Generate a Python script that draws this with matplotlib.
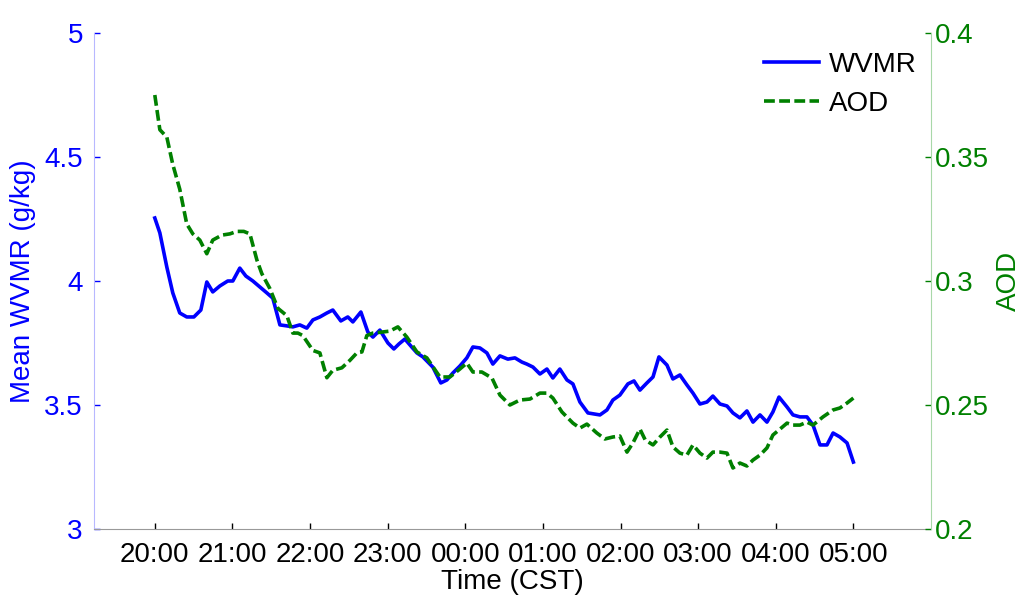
import matplotlib
matplotlib.use("Agg")
import matplotlib.pyplot as plt

plt.rcParams['font.family'] = ['Liberation Sans', 'DejaVu Sans']

# Minutes after 20:00 (CST)
wvmr_t = [0, 3.9, 9.3, 13.9, 19.3, 24.7, 30.2, 35.6, 40.2, 44.8, 50.3, 56.4, 60.3, 65.7, 70.4,
          75.8, 81.2, 86.6, 91.2, 96.7, 102.1, 106.7, 112.1, 117.5, 122.2, 127.6, 133.0, 137.6,
          143.8, 149.2, 153.1, 159.3, 164.7, 168.6, 174.0, 180.2, 184.8, 188.7, 193.3, 197.9,
          202.6, 207.2, 214.9, 221.1, 225.8, 230.4, 235.8, 241.2, 245.9, 251.3, 256.7, 261.3,
          266.8, 272.9, 278.4, 283.8, 287.6, 292.3, 297.7, 303.1, 307.7, 313.1, 318.6, 323.2,
          328.6, 334.8, 339.4, 344.1, 349.5, 354.1, 359.5, 365.7, 370.4, 375.0, 380.4, 385.1,
          389.7, 395.9, 400.5, 405.9, 411.3, 416.0, 421.4, 426.8, 431.4, 436.9, 442.3, 446.9,
          452.3, 457.7, 462.4, 467.8, 473.2, 477.8, 482.5, 488.7, 493.3, 498.7, 504.1, 508.8,
          514.2, 519.6, 524.3, 529.6, 535.1, 540]
wvmr = [4.254, 4.194, 4.056, 3.952, 3.871, 3.855, 3.855, 3.883, 3.996, 3.956, 3.980, 4.000,
        4.000, 4.052, 4.020, 4.000, 3.976, 3.952, 3.931, 3.823, 3.819, 3.815, 3.823, 3.810,
        3.843, 3.855, 3.871, 3.883, 3.839, 3.855, 3.835, 3.875, 3.794, 3.774, 3.802, 3.750,
        3.726, 3.746, 3.766, 3.738, 3.710, 3.694, 3.653, 3.589, 3.601, 3.629, 3.657, 3.690,
        3.734, 3.730, 3.710, 3.665, 3.698, 3.685, 3.690, 3.673, 3.665, 3.653, 3.625, 3.645,
        3.609, 3.645, 3.601, 3.585, 3.512, 3.468, 3.464, 3.460, 3.480, 3.520, 3.540, 3.585,
        3.597, 3.560, 3.589, 3.613, 3.694, 3.661, 3.605, 3.621, 3.581, 3.548, 3.504, 3.512,
        3.536, 3.504, 3.496, 3.468, 3.448, 3.476, 3.431, 3.460, 3.431, 3.472, 3.532, 3.492,
        3.460, 3.452, 3.452, 3.419, 3.339, 3.339, 3.387, 3.371, 3.347, 3.270]

aod_t = [0, 3.9, 9.3, 13.9, 19.3, 24.7, 29.4, 34.8, 40.2, 44.8, 51.8, 58.0, 63.4, 68.8, 73.5,
         78.9, 82.7, 88.9, 95.1, 102.1, 106.7, 110.6, 114.4, 122.2, 127.6, 133.0, 137.6, 144.6,
         150.8, 156.2, 160.1, 163.9, 168.6, 175.5, 181.7, 187.9, 194.8, 202.6, 210.3, 220.4,
         228.1, 235.8, 241.2, 245.9, 252.8, 260.6, 266.8, 274.5, 282.2, 290.0, 297.7, 303.1,
         307.7, 314.7, 323.2, 328.6, 334.0, 341.7, 347.9, 354.1, 359.5, 365.0, 369.6, 375.0,
         379.1, 385.1, 390.5, 395.9, 400.5, 405.9, 411.3, 416.0, 421.4, 426.8, 431.4, 436.9,
         442.3, 446.9, 452.3, 457.7, 462.4, 467.8, 473.2, 477.8, 483.3, 488.7, 493.3, 498.7,
         504.1, 508.8, 516.5, 524.3, 529.6, 535.1, 540]
aod = [0.375, 0.361, 0.358, 0.347, 0.337, 0.323, 0.319, 0.3165, 0.311, 0.3165, 0.3185, 0.319,
       0.320, 0.320, 0.319, 0.3085, 0.303, 0.297, 0.289, 0.286, 0.279, 0.279, 0.278, 0.272,
       0.271, 0.261, 0.264, 0.265, 0.268, 0.271, 0.2714, 0.278, 0.279, 0.2794, 0.2798, 0.2815,
       0.2774, 0.2714, 0.269, 0.2613, 0.2613, 0.2645, 0.2669, 0.2633, 0.2633, 0.2609, 0.254,
       0.250, 0.252, 0.2524, 0.2548, 0.2548, 0.2528, 0.2472, 0.2427, 0.2407, 0.2423, 0.2387,
       0.2363, 0.2371, 0.2375, 0.231, 0.2347, 0.2403, 0.2359, 0.2339, 0.2371, 0.2399, 0.2331,
       0.2306, 0.2298, 0.2339, 0.2306, 0.2286, 0.231, 0.231, 0.2306, 0.2246, 0.2266, 0.2254,
       0.2278, 0.2298, 0.2327, 0.2379, 0.2403, 0.2427, 0.2419, 0.2419, 0.2431, 0.2419, 0.2452,
       0.248, 0.2488, 0.2508, 0.2528]

xtick_pos = [0, 60, 120, 180, 240, 300, 360, 420, 480, 540]
xtick_labels = ['20:00', '21:00', '22:00', '23:00', '00:00', '01:00', '02:00', '03:00',
                '04:00', '05:00']
left_ticks = [3, 3.5, 4, 4.5, 5]
left_labels = ['3', '3.5', '4', '4.5', '5']
right_ticks = [0.2, 0.25, 0.3, 0.35, 0.4]
right_labels = ['0.2', '0.25', '0.3', '0.35', '0.4']

BLUE = '#0000ff'
GREEN = '#008000'
FS = 20

fig = plt.figure(figsize=(10.24, 5.97), dpi=100)
ax = fig.add_axes([94 / 1024, 1 - 529 / 597, (931 - 94) / 1024, (529 - 33) / 597])
ax2 = ax.twinx()

l1, = ax.plot(wvmr_t, wvmr, color=BLUE, lw=2.6, label='WVMR')
l2, = ax2.plot(aod_t, aod, color=GREEN, lw=2.6, ls=(0, (3.0, 1.2)), label='AOD')

ax.set_xlim(-47, 600)
ax.set_ylim(3, 5)
ax2.set_ylim(0.2, 0.4)

ax.set_xticks(xtick_pos)
ax.set_xticklabels(xtick_labels, fontsize=FS)
ax.set_yticks(left_ticks)
ax.set_yticklabels(left_labels, fontsize=FS, color=BLUE)
ax2.set_yticks(right_ticks)
ax2.set_yticklabels(right_labels, fontsize=FS, color=GREEN)

ax.tick_params(axis='x', direction='in', length=4, width=1, color='black', pad=9)
ax.tick_params(axis='y', direction='in', length=4, width=1, color=BLUE, pad=8)
ax2.tick_params(axis='y', direction='in', length=4, width=1, color=GREEN, pad=3)

for a in (ax, ax2):
    a.spines['top'].set_visible(False)
ax.spines['right'].set_visible(False)
ax2.spines['left'].set_visible(False)
ax2.spines['bottom'].set_visible(False)
ax.spines['left'].set_color('#b8b8ff')
ax.spines['bottom'].set_color('#999999')
ax2.spines['right'].set_color('#a8d8a8')

ax.set_xlabel('Time (CST)', fontsize=FS, labelpad=1)
ax.set_ylabel('Mean WVMR (g/kg)', fontsize=FS, color=BLUE, labelpad=6)
ax2.set_ylabel('AOD', fontsize=FS, color=GREEN, labelpad=5)

leg = ax2.legend(handles=[l1, l2], loc='upper right', bbox_to_anchor=(1.013, 1.012),
                 frameon=False, fontsize=FS, handlelength=2.0, handletextpad=0.35,
                 labelspacing=0.45)

fig.savefig('out.png', dpi=100)
